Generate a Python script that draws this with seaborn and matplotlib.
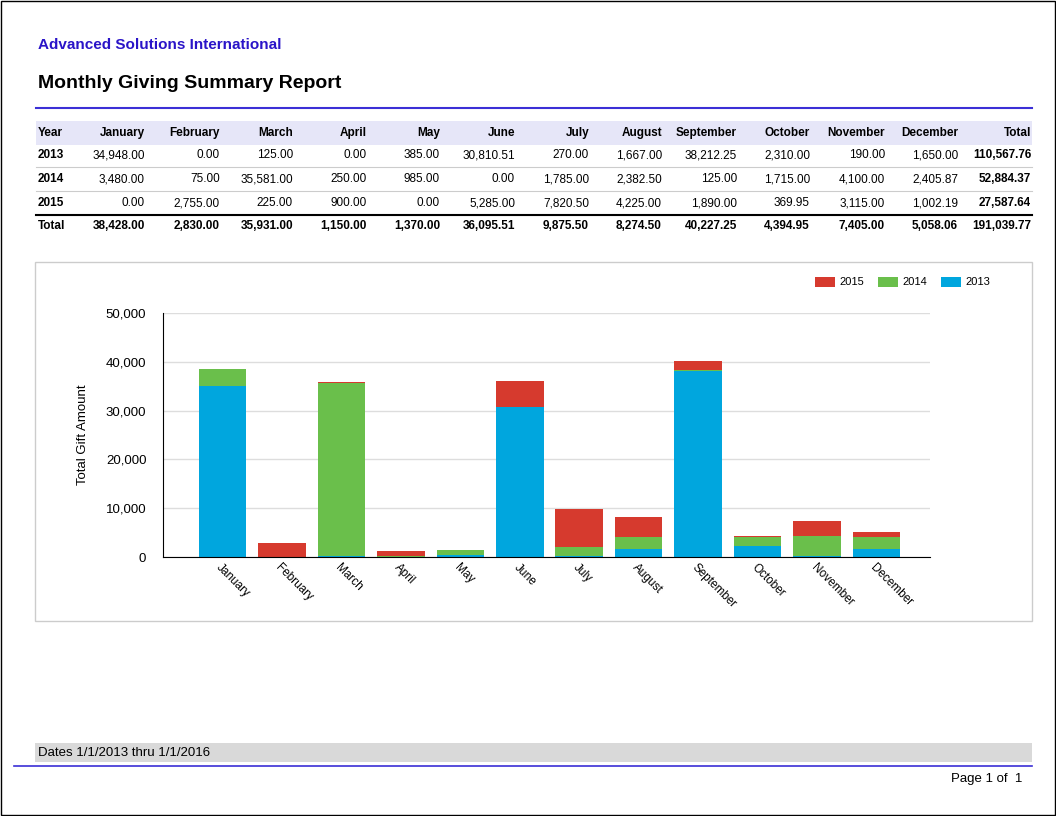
import matplotlib
matplotlib.use("Agg")
import matplotlib.pyplot as plt
import seaborn as sns
import pandas as pd
from matplotlib.patches import Rectangle
from matplotlib.lines import Line2D

months = ["January","February","March","April","May","June","July","August",
          "September","October","November","December"]
years = ["2013","2014","2015"]
v2013 = [34948.00,0.00,125.00,0.00,385.00,30810.51,270.00,1667.00,38212.25,2310.00,190.00,1650.00]
v2014 = [3480.00,75.00,35581.00,250.00,985.00,0.00,1785.00,2382.50,125.00,1715.00,4100.00,2405.87]
v2015 = [0.00,2755.00,225.00,900.00,0.00,5285.00,7820.50,4225.00,1890.00,369.95,3115.00,1002.19]
colors = {"2013": "#00a6de", "2014": "#6abf4b", "2015": "#d63a2e"}

W, H = 1056, 816
fig = plt.figure(figsize=(W/100, H/100), dpi=100)
plt.rcParams['font.family'] = ['Liberation Sans', 'DejaVu Sans']

def fx(x): return x / W
def fy(y): return 1 - y / H

def txt(x, y, s, **kw):
    fig.text(fx(x), fy(y), s, va="center", **kw)

def hline(x0, x1, y, color, lw):
    fig.add_artist(Line2D([fx(x0), fx(x1)], [fy(y), fy(y)], color=color, lw=lw, transform=fig.transFigure))

def rect(x0, y0, x1, y1, fc="none", ec="none", lw=1):
    fig.add_artist(Rectangle((fx(x0), fy(y1)), fx(x1 - x0), (y1 - y0) / H, facecolor=fc,
                             edgecolor=ec, lw=lw, transform=fig.transFigure))

rect(1, 1, W - 1, H - 1, ec="black", lw=1)
txt(38, 45, "Advanced Solutions International", color="#2a14c8", fontsize=11, fontweight="bold")
txt(38, 84, "Monthly Giving Summary Report", color="black", fontsize=14, fontweight="bold")
hline(36, 1032, 108, "#3b2fd6", 1.5)

rect(36, 121, 1032, 145, fc="#e6e6f8")
cols_r = [145, 220, 293, 367, 440, 515, 589, 662, 737, 810, 885, 958, 1031]
fs = 8.5
txt(38, 133, "Year", fontsize=fs, fontweight="bold")
for m, x in zip(months + ["Total"], cols_r):
    txt(x, 133, m, fontsize=fs, fontweight="bold", ha="right")
series = [v2013, v2014, v2015]
for yr, vals, yy in zip(years, series, [155, 179, 203]):
    txt(38, yy, yr, fontsize=fs, fontweight="bold")
    for v, x in zip(vals, cols_r):
        txt(x, yy, f"{v:,.2f}", fontsize=fs, ha="right")
    txt(cols_r[-1], yy, f"{sum(vals):,.2f}", fontsize=fs, ha="right", fontweight="bold")
    hline(36, 1032, yy + 12, "#cccccc", 0.8)
hline(36, 1032, 215, "black", 1.5)
tot = [a + b + c for a, b, c in zip(v2013, v2014, v2015)]
txt(38, 226, "Total", fontsize=fs, fontweight="bold")
for v, x in zip(tot, cols_r):
    txt(x, 226, f"{v:,.2f}", fontsize=fs, ha="right", fontweight="bold")
txt(cols_r[-1], 226, f"{sum(tot):,.2f}", fontsize=fs, ha="right", fontweight="bold")

rect(35, 262, 1032, 621, ec="#cccccc", lw=1)
ax = fig.add_axes([fx(163), fy(557), fx(930 - 163), (557 - 313) / H])
df = pd.DataFrame({"Month": months,
                   "c3": tot,
                   "c2": [a + b for a, b in zip(v2013, v2014)],
                   "c1": v2013})
for col, yr in [("c3", "2015"), ("c2", "2014"), ("c1", "2013")]:
    sns.barplot(data=df, x="Month", y=col, color=colors[yr], saturation=1, width=0.8, ax=ax)
ax.set_ylim(0, 50000)
ax.set_yticks(range(0, 50001, 10000))
ax.set_yticklabels([f"{t:,}" for t in range(0, 50001, 10000)], fontsize=9.5)
ax.yaxis.grid(True, color="#dddddd", lw=1)
ax.set_axisbelow(True)
ax.set_xlabel("")
ax.set_ylabel("Total Gift Amount", fontsize=9.5, labelpad=12)
for s in ["top", "right"]:
    ax.spines[s].set_visible(False)
ax.spines["left"].set_color("black")
ax.spines["bottom"].set_color("black")
ax.tick_params(axis="y", length=0, pad=12)
ax.tick_params(axis="x", length=0, pad=3)
ax.set_xticks(range(12))
ax.set_xticklabels(months, rotation=-45, ha="left", rotation_mode="anchor", fontsize=8.5)
ax.set_xlim(-1.0, 11.9)

for yr, x in [("2015", 815), ("2014", 878), ("2013", 941)]:
    rect(x, 277, x + 20, 287, fc=colors[yr])
    txt(x + 24, 282, yr, fontsize=8)

rect(35, 743, 1032, 762, fc="#d9d9d9")
txt(38, 753, "Dates 1/1/2013 thru 1/1/2016", fontsize=9.5)
hline(14, 1032, 766, "#3b2fd6", 1.2)
txt(1022, 779, "Page 1 of  1", fontsize=9.5, ha="right")

fig.savefig("out.png", dpi=100)
